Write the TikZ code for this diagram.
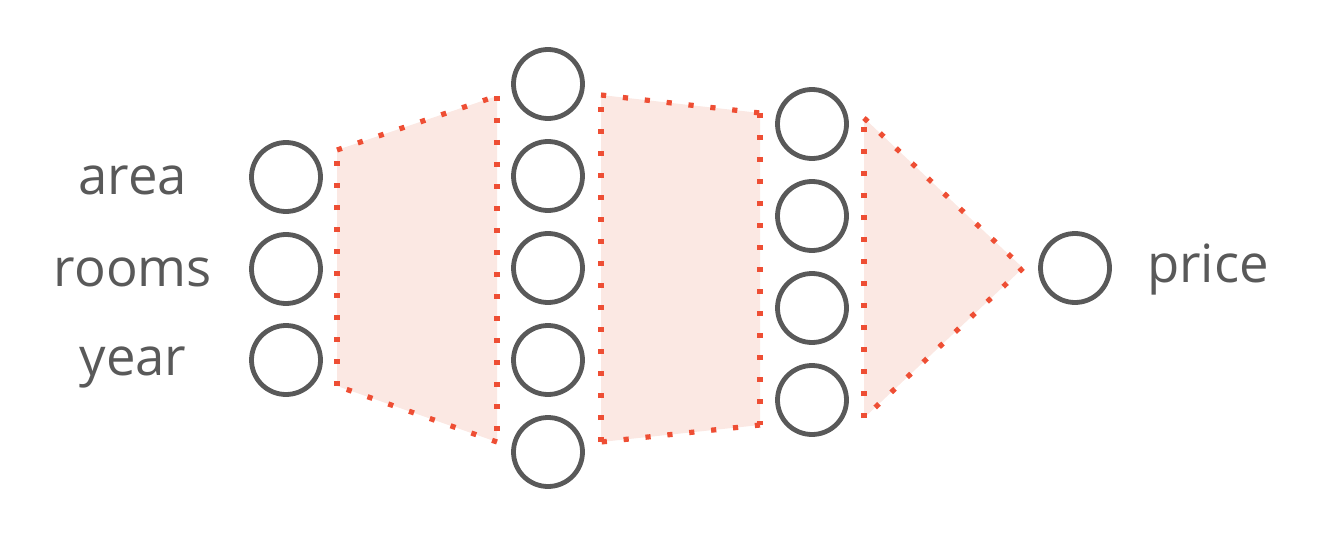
\documentclass[tikz,border=0pt]{standalone}
\usepackage{fontspec}
\setmainfont{Open Sans}
\definecolor{nodegray}{HTML}{595959}
\definecolor{dotred}{HTML}{EE4E34}
\definecolor{layerfill}{HTML}{FBE8E3}
\begin{document}
\begin{tikzpicture}[x=0.75pt, y=-0.75pt,
    neuron/.style={draw=nodegray, line width=3.6pt, circle, minimum size=51.75pt, inner sep=0pt},
    feature/.style={text=nodegray, anchor=base, inner sep=0pt, font=\fontsize{39.5}{44}\selectfont},
    dotline/.style={draw=dotred, line width=3.9pt, dash pattern=on 3.9pt off 12.6pt},
    band/.style={fill=layerfill}]
      \useasboundingbox (0,0) rectangle (1334,556);

      % Bands between the layers (drawn first, under the neurons)
      \coordinate (a1) at (337,150);
      \coordinate (a2) at (497,96);
      \coordinate (a3) at (497,442);
      \coordinate (a4) at (337,386);
      \fill[band] (a1) -- (a2) -- (a3) -- (a4) -- cycle;
      \foreach \p/\q in {a1/a2, a2/a3, a3/a4, a4/a1}
        \draw[dotline] (\p) -- (\q);

      \coordinate (b1) at (601,95);
      \coordinate (b2) at (760,113);
      \coordinate (b3) at (760,425);
      \coordinate (b4) at (601,442);
      \fill[band] (b1) -- (b2) -- (b3) -- (b4) -- cycle;
      \foreach \p/\q in {b1/b2, b2/b3, b3/b4, b4/b1}
        \draw[dotline] (\p) -- (\q);

      \coordinate (c1) at (864,118);
      \coordinate (c2) at (1023,268);
      \coordinate (c3) at (864,418);
      \fill[band] (c1) -- (c2) -- (c3) -- cycle;
      \foreach \p/\q in {c1/c2, c2/c3, c3/c1}
        \draw[dotline] (\p) -- (\q);

      % Input layer
      \node[neuron] (in1) at (286,177) {};
      \node[neuron] (in2) at (286,269) {};
      \node[neuron] (in3) at (286,360) {};

      % Hidden layers
      \foreach \i/\y in {1/84, 2/176, 3/268, 4/360, 5/452}
        \node[neuron] (h\i) at (548,\y) {};
      \foreach \i/\y in {1/124, 2/216, 3/308, 4/400}
        \node[neuron] (k\i) at (812,\y) {};

      % Output
      \node[neuron] (out) at (1075,268) {};

      % Labels
      \node[feature] (area) at (133,195) {area};
      \node[feature] (rooms) at (133,286) {rooms};
      \node[feature] (year) at (133,375) {year};
      \node[feature] (price) at (1208,282) {price};
\end{tikzpicture}
\end{document}
